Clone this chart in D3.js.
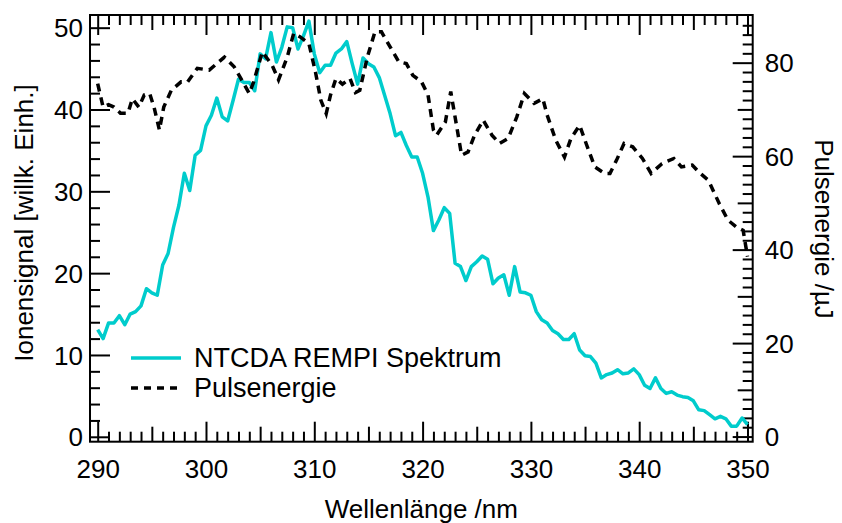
<!DOCTYPE html>
<html><head><meta charset="utf-8">
<script src="https://cdn.jsdelivr.net/npm/d3@7"></script>
<style>
body{margin:0;background:#fff}
svg text{font-family:"Liberation Sans",Arial,sans-serif;fill:#000}
</style></head><body>
<svg id="c" width="842" height="523"></svg>
<script>
const wavelength = [290,290.5,291,291.5,292,292.5,293,293.5,294,294.5,295,295.5,296,296.5,297,297.5,298,298.5,299,299.5,
300,300.5,301,301.5,302,302.5,303,303.5,304,304.5,305,305.5,306,306.5,307,307.5,308,308.5,309,309.5,
310,310.5,311,311.5,312,312.5,313,313.5,314,314.5,315,315.5,316,316.5,317,317.5,318,318.5,319,319.5,
320,320.5,321,321.5,322,322.5,323,323.5,324,324.5,325,325.5,326,326.5,327,327.5,328,328.5,329,329.5,
330,330.5,331,331.5,332,332.5,333,333.5,334,334.5,335,335.5,336,336.5,337,337.5,338,338.5,339,339.5,
340,340.5,341,341.5,342,342.5,343,343.5,344,344.5,345,345.5,346,346.5,347,347.5,348,348.5,349,349.5,350];
const ionSignal = [13.1,12.0,13.9,13.9,14.8,13.7,15.0,15.3,16.0,18.1,17.6,17.3,21.0,22.4,25.6,28.3,32.2,30.1,34.4,35.0,
38.0,39.3,41.4,39.1,38.6,41.1,43.7,43.3,43.3,42.3,46.8,46.2,49.4,45.8,47.6,50.1,50.0,47.4,49.0,50.8,
46.8,44.5,45.4,45.4,46.9,47.4,48.3,45.6,43.1,46.3,45.6,45.2,43.9,41.7,39.5,36.8,37.2,35.6,34.2,34.2,
32.2,29.3,25.2,26.5,28.0,27.3,21.2,20.8,19.1,20.8,21.4,22.1,21.7,18.7,19.4,19.8,17.3,20.8,17.7,17.6,
17.3,15.3,14.3,13.9,13.0,12.6,11.9,11.9,12.6,10.6,9.9,9.8,9.0,7.2,7.6,7.8,8.2,7.7,7.8,8.3,
7.6,6.3,5.9,7.2,5.9,5.3,5.5,5.1,4.9,4.8,4.4,3.3,3.2,2.7,2.2,2.5,2.2,1.3,1.3,2.3,1.5];
const pulseWavelength = [290.0,290.2,290.5,291.0,291.5,292.1,292.8,293.2,293.8,294.3,294.8,295.2,295.7,296.1,296.8,297.7,298.3,299.2,300.3,
301.7,302.6,303.4,304.0,304.4,305.2,306.1,306.7,307.5,308.1,308.7,309.5,310.1,310.6,311.1,311.5,312.0,312.6,313.3,313.8,314.2,
314.9,315.6,316.2,317.0,317.8,318.5,319.1,319.9,320.5,321.0,321.3,322.1,322.6,323.1,323.6,324.2,324.8,325.6,326.4,327.1,327.9,
328.7,329.4,330.3,331.1,331.5,332.3,333.1,333.7,334.5,335.1,335.9,336.8,337.3,337.9,338.6,339.4,340.3,341.1,342.1,343.2,343.9,
344.9,345.5,346.4,347.4,348.2,349.0,349.6,350.0];
const pulseEnergy = [75.5,73.5,70.5,71.0,70.5,69.2,69.2,72.3,70.5,73.1,73.4,70.5,65.6,70.5,74.1,75.9,75.9,78.8,78.4,
81.2,79.1,75.9,73.4,75.9,82.3,79.5,76.3,81.2,86.3,85.5,84.1,78.1,72.0,69.1,73.1,76.6,75.4,76.6,73.6,74.1,
81.2,86.6,86.6,83.4,80.2,79.8,77.3,75.9,73.1,65.6,64.5,67.3,73.8,67.0,60.2,60.9,64.5,67.7,64.5,62.7,63.8,
68.4,73.4,71.3,72.3,68.8,63.4,59.8,63.8,66.6,62.7,57.7,56.3,56.3,59.1,62.7,62.0,59.5,56.3,58.4,59.5,57.7,
58.1,56.6,54.8,49.8,46.3,44.8,44.1,38.5];
const xTicks = [290,300,310,320,330,340,350];
const yLeftTicks = [0,10,20,30,40,50];
const yRightTicks = [0,20,40,60,80];
const seriesNames = ["NTCDA REMPI Spektrum","Pulsenergie"];
const titles = {x:"Wellenlänge /nm", yLeft:"Ionensignal [willk. Einh.]", yRight:"Pulsenergie /µJ"};

const svg = d3.select("#c");
const L=90, R=752.7, T=15, B=441.7;
const FS = 26, FS2 = 27;
const x = d3.scaleLinear().domain([289.29,350.48]).range([L,R]);
const yL = d3.scaleLinear().domain([-0.6,51.55]).range([B,T]);
const yR = d3.scaleLinear().domain([-1.1,90.2]).range([B,T]);

function ticks(axisFn, scale, vals, len, tx, ty, withLabels){
  const a = axisFn(scale).tickValues(vals).tickSize(-len).tickPadding(0);
  if(!withLabels) a.tickFormat("");
  const g = svg.append("g").attr("transform",`translate(${tx},${ty})`).call(a);
  g.select(".domain").remove();
  g.selectAll("line").attr("stroke","#000").attr("stroke-width",2);
  g.selectAll("text").attr("font-size",FS).attr("font-family",'"Liberation Sans",Arial,sans-serif').attr("fill","#000");
  return g;
}
const xAll = d3.range(290,351,1);
const xMinor = xAll.filter(v=>v%5!==0);
const xMed = xAll.filter(v=>v%5===0 && v%10!==0);
// bottom
ticks(d3.axisBottom,x,xMinor,10,0,B,false);
ticks(d3.axisBottom,x,xMed,15,0,B,false);
const gb = ticks(d3.axisBottom,x,xTicks,20,0,B,true);
gb.selectAll("text").attr("y",36.5).attr("dy",0);
// top
ticks(d3.axisTop,x,xMinor,10,0,T,false);
ticks(d3.axisTop,x,xMed,15,0,T,false);
ticks(d3.axisTop,x,xTicks,20,0,T,false);
// left
const yLMinor = d3.range(2,52,2).filter(v=>v%10!==0);
ticks(d3.axisLeft,yL,yLMinor,10,L,0,false);
const gl = ticks(d3.axisLeft,yL,yLeftTicks,20,L,0,true);
gl.selectAll("text").attr("x",-7).attr("dy","0.35em");
// right
const yRAll = d3.range(2,90,2);
const yRMinor = yRAll.filter(v=>v%10!==0);
const yRMed = yRAll.filter(v=>v%10===0 && v%20!==0);
ticks(d3.axisRight,yR,yRMinor,10,R,0,false);
ticks(d3.axisRight,yR,yRMed,15,R,0,false);
const gr = ticks(d3.axisRight,yR,yRightTicks,20,R,0,true);
gr.selectAll("text").attr("x",12).attr("dy","0.35em");

// frame
svg.append("rect").attr("x",L).attr("y",T).attr("width",R-L).attr("height",B-T)
  .attr("fill","none").attr("stroke","#000").attr("stroke-width",2);

const cyan = "#00cccc";
svg.append("path").datum(wavelength.map((w,i)=>[w,ionSignal[i]]))
  .attr("fill","none").attr("stroke",cyan).attr("stroke-width",3.5).attr("stroke-linejoin","round")
  .attr("d",d3.line().x(d=>x(d[0])).y(d=>yL(d[1])));
svg.append("path").datum(pulseWavelength.map((w,i)=>[w,pulseEnergy[i]]))
  .attr("fill","none").attr("stroke","#000").attr("stroke-width",3.5).attr("stroke-dasharray","8,6")
  .attr("d",d3.line().x(d=>x(d[0])).y(d=>yR(d[1])));

// legend
const lg = svg.append("g");
lg.append("line").attr("x1",131).attr("x2",181).attr("y1",358).attr("y2",358)
  .attr("stroke",cyan).attr("stroke-width",3.5);
lg.append("text").attr("x",194).attr("y",358).attr("dy","0.35em").attr("font-size",FS2).text(seriesNames[0]);
lg.append("line").attr("x1",131).attr("x2",181).attr("y1",388).attr("y2",388)
  .attr("stroke","#000").attr("stroke-width",3.5).attr("stroke-dasharray","7,6");
lg.append("text").attr("x",194).attr("y",388).attr("dy","0.35em").attr("font-size",FS2).text(seriesNames[1]);

// titles
svg.append("text").attr("x",(L+R)/2).attr("y",518).attr("text-anchor","middle").attr("font-size",FS).text(titles.x);
svg.append("text").attr("transform","translate(33,223) rotate(-90)").attr("text-anchor","middle").attr("font-size",FS).text(titles.yLeft);
svg.append("text").attr("transform","translate(815,229) rotate(90)").attr("text-anchor","middle").attr("font-size",FS).text(titles.yRight);
</script>
</body></html>
